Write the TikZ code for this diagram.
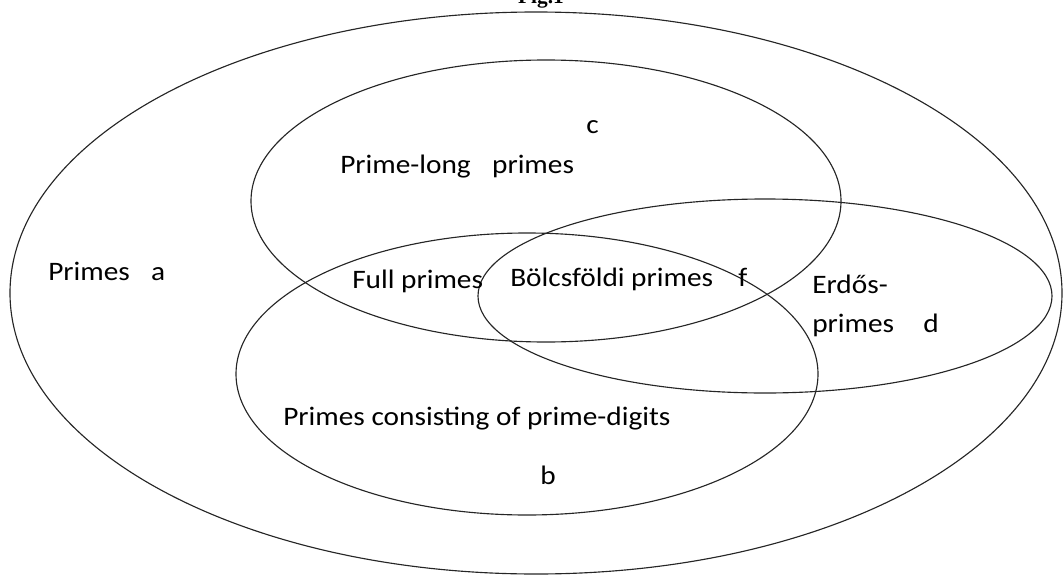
\documentclass[tikz,border=0pt]{standalone}
\usepackage{fontspec}
\setmainfont[FakeStretch=1.1]{Carlito}
\newfontfamily\figfont{Liberation Serif}
\usepackage{tikz}
\usetikzlibrary{positioning}

\tikzset{
  set/.style={draw=black!85, line width=0.85pt},
  lbl/.style={inner sep=0pt, font=\fontsize{20}{24}\selectfont, anchor=base west}
}

\begin{document}
\begin{tikzpicture}[x=0.75pt, y=-0.75pt]
    \useasboundingbox (0,0) rectangle (1064,578);
    % Title (cut at the top)
    \node[inner sep=0pt, anchor=base, font=\figfont\bfseries\fontsize{16}{18}\selectfont] (fig) at (541,3) {Fig.1};

    % Sets
    \draw[set] (536,293) ellipse [x radius=526, y radius=281];
    \draw[set] (546,201) ellipse [x radius=295, y radius=141];
    \draw[set] (527,374) ellipse [x radius=291, y radius=141];
    \draw[set] (765,296) ellipse [x radius=287, y radius=97];

    % Labels
    \node[lbl] (primes) at (48,280) {Primes\hspace{0.8em}a};
    \node[lbl] (c) at (586,133) {c};
    \node[lbl] (primelong) at (340,173) {Prime-long\hspace{0.8em}primes};
    \node[lbl] (full) at (352,288) {Full primes};
    \node[lbl] (bolcs) at (510,286) {B\"olcsf\"oldi primes\hspace{0.95em}f};
    \node[lbl] (erdos) at (812,293) {Erd\H{o}s-};
    \node[lbl] (d) at (812,332) {primes\hspace{1.1em}d};
    \node[lbl] (digits) at (283,425) {Primes consisting of prime-digits};
    \node[lbl] (b) at (540,484) {b};
\end{tikzpicture}
\end{document}
